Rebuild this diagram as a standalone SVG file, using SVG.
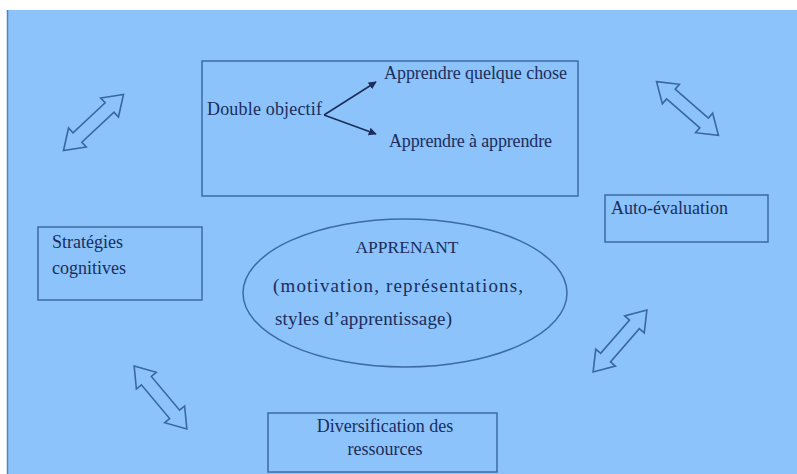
<svg xmlns="http://www.w3.org/2000/svg" width="797" height="474" viewBox="0 0 797 474">
<style>
.box{fill:none;stroke:#3d6ca3;stroke-width:1.5}
.t{font-family:"Liberation Serif","Times New Roman",serif;font-size:18px;fill:#1c2d5c}
.dbl{fill:#8cc3fa;stroke:#3a67a0;stroke-width:1.6;stroke-linejoin:miter}
.con{stroke:#1c2d5c;stroke-width:1.5;fill:none}
</style>
<defs>
<path id="da" d="M-41,0 L-22,-13 L-22,-6.5 L22,-6.5 L22,-13 L41,0 L22,13 L22,6.5 L-22,6.5 L-22,13 Z"/>
<marker id="ah" viewBox="0 0 10 10" refX="9" refY="5" markerWidth="8" markerHeight="8" orient="auto" markerUnits="userSpaceOnUse">
<path d="M0,0 L10,5 L0,10 Z" fill="#1c2d5c"/>
</marker>
</defs>
<rect width="797" height="474" fill="#ffffff"/>
<rect x="7" y="10" width="790" height="464" fill="#8bc3fa"/>
<line x1="7.5" y1="10" x2="7.5" y2="474" stroke="#4f84c0" stroke-width="1.5"/>

<g id="objectif">
<rect class="box" x="202" y="61" width="376" height="135"/>
<text class="t" x="207" y="115" textLength="115">Double objectif</text>
<text class="t" x="384" y="79" textLength="183">Apprendre quelque chose</text>
<text class="t" x="389" y="147" textLength="163">Apprendre à apprendre</text>
</g>

<g id="strategies">
<rect class="box" x="38" y="227" width="164" height="73"/>
<text class="t" x="52" y="248">Stratégies</text>
<text class="t" x="52" y="274">cognitives</text>
</g>

<g id="autoeval">
<rect class="box" x="605" y="195" width="163" height="47"/>
<text class="t" x="611" y="214">Auto-évaluation</text>
</g>

<g id="apprenant">
<ellipse class="box" cx="405" cy="293" rx="162" ry="74"/>
<text class="t" x="407" y="253" text-anchor="middle" style="font-size:17.5px">APPRENANT</text>
<text class="t" x="273" y="292" textLength="250" style="font-size:19px">(motivation, représentations,</text>
<text class="t" x="275" y="325" textLength="177" style="font-size:19px">styles d’apprentissage)</text>
</g>

<g id="diversification">
<rect class="box" x="268" y="413" width="229" height="59"/>
<text class="t" x="385" y="432" text-anchor="middle">Diversification des</text>
<text class="t" x="385" y="455" text-anchor="middle">ressources</text>
</g>

<g id="connectors">
<line class="con" x1="324" y1="115" x2="376" y2="82" marker-end="url(#ah)"/>
<line class="con" x1="324" y1="115" x2="376" y2="134" marker-end="url(#ah)"/>
<use href="#da" class="dbl" transform="translate(93.5,122.5) rotate(-43)"/>
<use href="#da" class="dbl" transform="translate(687.5,108.5) rotate(41)"/>
<use href="#da" class="dbl" transform="translate(160.5,397.5) rotate(50)"/>
<use href="#da" class="dbl" transform="translate(620,341) rotate(-49)"/>
</g>
</svg>
